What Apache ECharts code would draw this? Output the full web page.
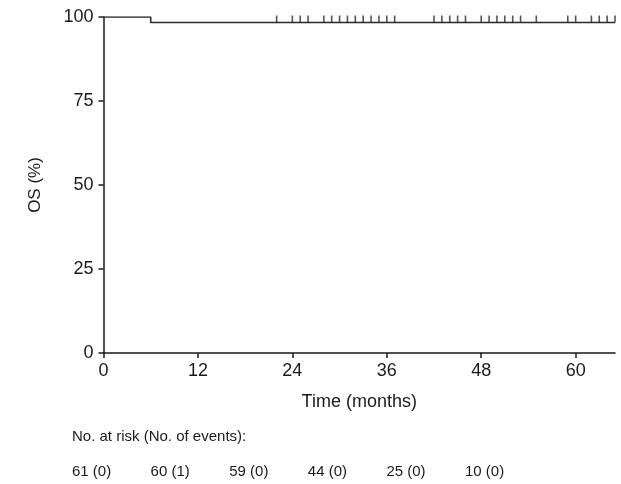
<!DOCTYPE html>
<html>
<head>
<meta charset="utf-8">
<style>
  html, body { margin: 0; padding: 0; background: #fff; }
  #chart { width: 621px; height: 484px; }
</style>
</head>
<body>
<div id="chart"></div>
<script src="https://cdn.jsdelivr.net/npm/echarts@6/dist/echarts.min.js"></script>
<script>
// Kaplan-Meier step points (months, OS %)
var kmTimes = [0, 6, 65];
var kmSurvival = [100, 98.36, 98.36];
// censored observations (months)
var censorTimes = [22, 24, 25, 26, 28, 29, 30, 31, 32, 33, 34, 35, 36, 37,
  42, 43, 44, 45, 46, 48, 49, 50, 51, 52, 53, 55, 59, 60, 62, 63, 64, 65];
var xTicks = [0, 12, 24, 36, 48, 60];
var yTicks = [0, 25, 50, 75, 100];
var riskLabel = 'No. at risk (No. of events):';
var riskCounts = ['61 (0)', '60 (1)', '59 (0)', '44 (0)', '25 (0)', '10 (0)'];

var FONT = '"Liberation Sans", Arial, sans-serif';
var INK = '#1a1a1a';

var chart = echarts.init(document.getElementById('chart'));

var kmData = kmTimes.map(function (t, i) { return [t, kmSurvival[i]]; });
var censorData = censorTimes.map(function (t) {
  // survival level at time t
  var s = kmSurvival[0];
  for (var i = 0; i < kmTimes.length; i++) { if (kmTimes[i] <= t) s = kmSurvival[i]; }
  return [t, s];
});

var graphics = [{
  type: 'text', left: 72, top: 429,
  style: { text: riskLabel, font: '15px ' + FONT, fill: INK }
}];
riskCounts.forEach(function (txt, i) {
  graphics.push({
    type: 'text', left: 72 + i * 78.6, top: 464,
    style: { text: txt, font: '15px ' + FONT, fill: INK }
  });
});

var option = {
  animation: false,
  textStyle: { fontFamily: FONT },
  grid: { left: 103.5, right: 6, top: 17, bottom: 131 },
  xAxis: {
    type: 'value', min: 0, max: 65,
    name: 'Time (months)', nameLocation: 'middle', nameGap: 40,
    nameTextStyle: { fontSize: 18, color: INK, fontFamily: FONT },
    axisLine: { show: true, onZero: false, lineStyle: { color: INK, width: 1.5 } },
    axisTick: { show: true, length: 5, customValues: xTicks, lineStyle: { color: INK, width: 1.5 } },
    axisLabel: { customValues: xTicks, margin: 9, fontSize: 18, color: INK, fontFamily: FONT },
    splitLine: { show: false }
  },
  yAxis: {
    type: 'value', min: 0, max: 100, interval: 25,
    name: 'OS (%)', nameLocation: 'middle', nameGap: 60,
    nameTextStyle: { fontSize: 17, color: INK, fontFamily: FONT },
    axisLine: { show: true, lineStyle: { color: INK, width: 1.5 } },
    axisTick: { show: true, length: 5, customValues: yTicks, lineStyle: { color: INK, width: 1.5 } },
    axisLabel: { customValues: yTicks, margin: 10, fontSize: 18, color: INK, fontFamily: FONT },
    splitLine: { show: false }
  },
  series: [{
    type: 'line', step: 'end', data: kmData,
    symbol: 'none', lineStyle: { color: '#2a2a2a', width: 1.6 }, z: 3
  }, {
    type: 'scatter', data: censorData,
    symbol: 'rect', symbolSize: [1.6, 7], symbolOffset: [0, -3.5],
    itemStyle: { color: '#2a2a2a' }, z: 4
  }],
  graphic: graphics
};
chart.setOption(option);
</script>
</body>
</html>
